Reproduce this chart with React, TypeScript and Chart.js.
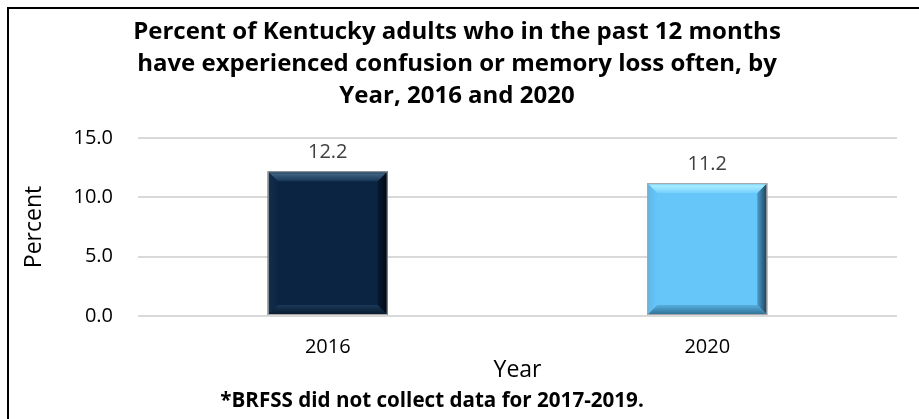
import React, { useEffect, useRef } from 'react';
import { Chart, registerables } from 'chart.js';

Chart.register(...registerables);

// ---- data ----
const categories: string[] = ['2016', '2020'];
const values: number[] = [12.2, 11.2];
const titleLines: string[] = [
  'Percent of Kentucky adults who in the past 12 months',
  'have experienced confusion or memory loss often, by',
  'Year, 2016 and 2020',
];
const footnote = '*BRFSS did not collect data for 2017-2019.';
const yAxisTitle = 'Percent';
const xAxisTitle = 'Year';
const yMin = 0;
const yMax = 15;
const yStep = 5;

// ---- styles ----
const FONT = '"Open Sans", Lato, sans-serif';
const barColors = ['#0b2442', '#66c5f9'];
const bevelStyles = [
  { topOuter: '#3d6080', topInner: '#173657', left: '#14304f', rightOuter: '#000812', rightInner: '#071a30', bottomOuter: '#07182c', bottomInner: '#1a3858' },
  { topOuter: '#a8ecff', topInner: '#74d0ff', left: '#5cb8ea', rightOuter: '#1d3d52', rightInner: '#4a9ccc', bottomOuter: '#2f6e92', bottomInner: '#56aede' },
];

const bevelPlugin = {
  id: 'bevel',
  afterDatasetsDraw(chart: any) {
    const ctx = chart.ctx as CanvasRenderingContext2D;
    const meta = chart.getDatasetMeta(0);
    meta.data.forEach((el: any, i: number) => {
      const p = el.getProps(['x', 'y', 'base', 'width'], true);
      const l = p.x - p.width / 2;
      const r = p.x + p.width / 2;
      const t = Math.min(p.y, p.base);
      const b = Math.max(p.y, p.base);
      const s = bevelStyles[i % bevelStyles.length];
      const bv = 10;
      const poly = (pts: number[][], fill: any) => {
        ctx.beginPath();
        ctx.moveTo(pts[0][0], pts[0][1]);
        for (let k = 1; k < pts.length; k++) ctx.lineTo(pts[k][0], pts[k][1]);
        ctx.closePath();
        ctx.fillStyle = fill;
        ctx.fill();
      };
      ctx.save();
      let g = ctx.createLinearGradient(l, 0, l + bv, 0);
      g.addColorStop(0, s.left);
      g.addColorStop(1, barColors[i]);
      poly([[l, t], [l + bv, t + bv], [l + bv, b - bv], [l, b]], g);
      g = ctx.createLinearGradient(r - bv, 0, r, 0);
      g.addColorStop(0, s.rightInner);
      g.addColorStop(1, s.rightOuter);
      poly([[r, t], [r, b], [r - bv, b - bv], [r - bv, t + bv]], g);
      g = ctx.createLinearGradient(0, t, 0, t + bv);
      g.addColorStop(0, s.topInner);
      g.addColorStop(0.3, s.topOuter);
      g.addColorStop(1, s.topInner);
      poly([[l, t], [r, t], [r - bv, t + bv], [l + bv, t + bv]], g);
      g = ctx.createLinearGradient(0, b - bv, 0, b);
      g.addColorStop(0, s.bottomInner);
      g.addColorStop(1, s.bottomOuter);
      poly([[l, b], [l + bv, b - bv], [r - bv, b - bv], [r, b]], g);
      ctx.strokeStyle = '#a6a6a6';
      ctx.lineWidth = 1;
      ctx.strokeRect(l + 0.5, t + 0.5, r - l - 1, b - t - 1);
      ctx.restore();
    });
  },
};

const labelPlugin = {
  id: 'valueLabels',
  afterDatasetsDraw(chart: any) {
    const ctx = chart.ctx as CanvasRenderingContext2D;
    const meta = chart.getDatasetMeta(0);
    const data = chart.data.datasets[0].data as number[];
    ctx.save();
    ctx.font = `20px ${FONT}`;
    ctx.fillStyle = '#404040';
    ctx.textAlign = 'center';
    ctx.textBaseline = 'middle';
    meta.data.forEach((el: any, i: number) => {
      const p = el.getProps(['x', 'y'], true);
      ctx.fillText(data[i].toFixed(1), p.x, p.y - 19);
    });
    ctx.restore();
  },
};

const footnotePlugin = {
  id: 'footnote',
  afterDraw(chart: any) {
    const ctx = chart.ctx as CanvasRenderingContext2D;
    ctx.save();
    ctx.font = `bold 20.6px ${FONT}`;
    ctx.fillStyle = '#000';
    ctx.textAlign = 'center';
    ctx.textBaseline = 'middle';
    ctx.fillText(footnote, 432, chart.height - 18);
    ctx.restore();
  },
};

export default function App() {
  const ref = useRef<HTMLCanvasElement | null>(null);
  useEffect(() => {
    if (!ref.current) return;
    const chart = new Chart(ref.current, {
      type: 'bar',
      data: {
        labels: categories,
        datasets: [
          {
            data: values,
            backgroundColor: barColors,
            borderWidth: 0,
            barPercentage: 0.316,
            categoryPercentage: 1,
          },
        ],
      },
      options: {
        animation: false,
        responsive: false,
        devicePixelRatio: 1,
        layout: { padding: { left: 17, right: 22, top: 8, bottom: 30 } },
        plugins: {
          legend: { display: false },
          tooltip: { enabled: false },
          title: {
            display: true,
            text: titleLines,
            color: '#000',
            font: { family: FONT, size: 24, weight: 'bold', lineHeight: 1.333 },
            padding: { top: 8, bottom: 26 },
          },
        },
        scales: {
          x: {
            grid: { display: false, drawTicks: false },
            border: { display: false },
            ticks: { color: '#000', font: { family: FONT, size: 20 }, padding: 19 },
            title: {
              display: true,
              text: xAxisTitle,
              color: '#000',
              font: { family: FONT, size: 23, lineHeight: 1.2 },
              padding: { top: 0, bottom: 5 },
            },
            afterFit: (s: any) => {
              s.height = 73;
            },
          },
          y: {
            min: yMin,
            max: yMax,
            ticks: {
              stepSize: yStep,
              callback: (v: any) => Number(v).toFixed(1),
              color: '#000',
              font: { family: FONT, size: 20 },
              padding: 25,
            },
            grid: { color: '#d9d9d9', lineWidth: 2, drawTicks: false },
            border: { display: false },
            title: {
              display: true,
              text: yAxisTitle,
              color: '#000',
              font: { family: FONT, size: 23, lineHeight: 1.2 },
              padding: { top: 4, bottom: 0 },
            },
            afterFit: (s: any) => {
              s.width = 121;
            },
          },
        },
      } as any,
      plugins: [bevelPlugin, labelPlugin, footnotePlugin],
    });
    return () => chart.destroy();
  }, []);

  return (
    <div style={{ position: 'fixed', left: 0, top: 0, width: 919, height: 419, overflow: 'hidden', background: '#fff' }}>
      <div
        style={{
          position: 'absolute',
          left: 7,
          top: 7,
          width: 2000,
          height: 2000,
          borderLeft: '2px solid #000',
          borderTop: '2px solid #000',
        }}
      />
      <canvas ref={ref} width={919} height={419} style={{ position: 'absolute', left: 0, top: 0, width: 919, height: 419 }} />
    </div>
  );
}
